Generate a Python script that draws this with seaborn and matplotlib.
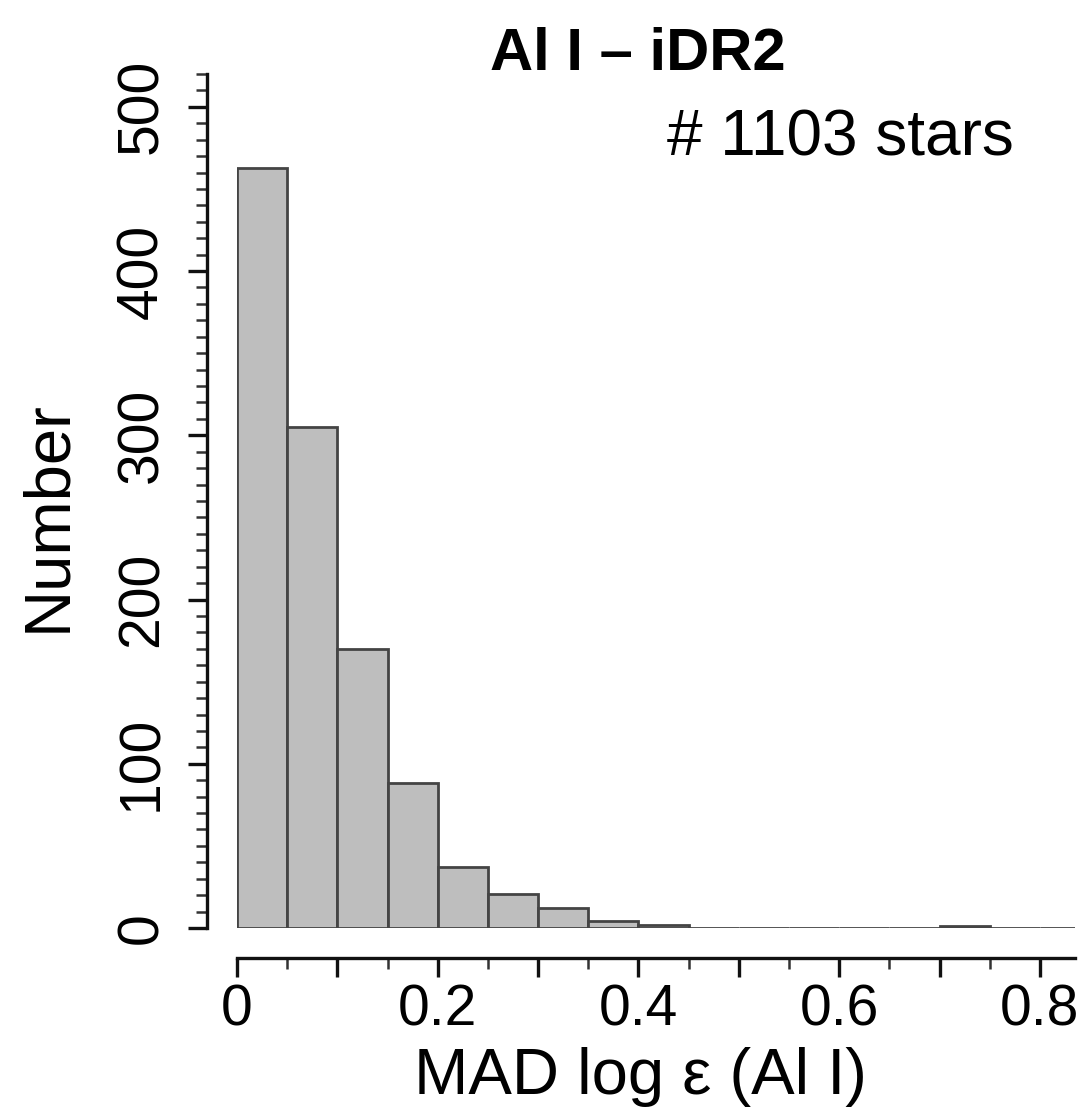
import numpy as np
import pandas as pd
import matplotlib
matplotlib.use("Agg")
import matplotlib.pyplot as plt
from matplotlib.ticker import FixedLocator, FixedFormatter, MultipleLocator
import seaborn as sns

# Histogram of MAD log eps (Al I), bin edges and counts per bin
bin_edges = [0.00, 0.05, 0.10, 0.15, 0.20, 0.25, 0.30, 0.35, 0.40,
             0.45, 0.50, 0.55, 0.60, 0.65, 0.70, 0.75, 0.80, 0.85]
counts = [463, 305, 170, 88, 37, 21, 12, 4, 2, 0, 0, 0, 0, 0, 1, 0, 0]

x_ticks = [0.0, 0.1, 0.2, 0.3, 0.4, 0.5, 0.6, 0.7, 0.8]
x_tick_labels = ["0", "", "0.2", "", "0.4", "", "0.6", "", "0.8"]
y_ticks = [0, 100, 200, 300, 400, 500]
y_tick_labels = ["0", "100", "200", "300", "400", "500"]

title = "Al I – iDR2"
n_stars = sum(counts)
xlabel = "MAD log ε (Al I)"
ylabel = "Number"

sns.set_theme(style="ticks")
plt.rcParams["font.family"] = ["Liberation Sans", "DejaVu Sans"]
plt.rcParams["text.color"] = "black"

W, H = 1084, 1110
fig = plt.figure(figsize=(W / 100, H / 100), dpi=100)
ax = fig.add_axes([237 / W, (H - 928) / H, 838 / W, 854 / H])

edges = np.array(bin_edges)
centers = list((edges[:-1] + edges[1:]) / 2)
df = pd.DataFrame({"mad": centers, "n": counts})
sns.histplot(data=df, x="mad", weights="n", bins=list(bin_edges), ax=ax,
             color="#bebebe", edgecolor="#444444", linewidth=2.0, alpha=1.0)

ax.set_xlim(0, 0.835)
ax.set_ylim(0, 520)

sns.despine(ax=ax, offset=21.6)
ax.spines["left"].set_bounds(0, 520)
ax.spines["bottom"].set_bounds(0, 0.835)
for s in ("left", "bottom"):
    ax.spines[s].set_linewidth(2.4)
    ax.spines[s].set_color("#111111")

ax.xaxis.set_major_locator(FixedLocator(x_ticks))
ax.xaxis.set_major_formatter(FixedFormatter(x_tick_labels))
ax.xaxis.set_minor_locator(MultipleLocator(0.05))
ax.yaxis.set_major_locator(FixedLocator(y_ticks))
ax.yaxis.set_major_formatter(FixedFormatter(y_tick_labels))
ax.yaxis.set_minor_locator(MultipleLocator(10))

ax.tick_params(axis="both", which="major", length=14, width=2.4, color="#111111",
               labelsize=41, labelcolor="black")
ax.tick_params(axis="both", which="minor", length=8, width=1.8, color="#333333")
ax.tick_params(axis="x", which="major", pad=4)
ax.tick_params(axis="y", which="major", pad=13)
for lab in ax.get_yticklabels():
    lab.set_rotation(90)
    lab.set_va("center")

# Axis titles, placed in figure coordinates
ax.set_xlabel("")
ax.set_ylabel("")
fig.text(640 / W, 1 - 1094 / H, xlabel, ha="center", va="baseline",
         fontsize=47, color="black")
fig.text(48 / W, 1 - 516 / H, ylabel, ha="center", va="center",
         rotation=90, fontsize=47, color="black")

fig.text(638 / W, 1 - 70 / H, title, ha="center", va="baseline",
         fontsize=43, fontweight="bold", color="black")
fig.text(1014 / W, 1 - 156 / H, f"# {n_stars} stars", ha="right", va="baseline",
         fontsize=46, color="black")

fig.savefig("out.png", dpi=100, facecolor="white")
